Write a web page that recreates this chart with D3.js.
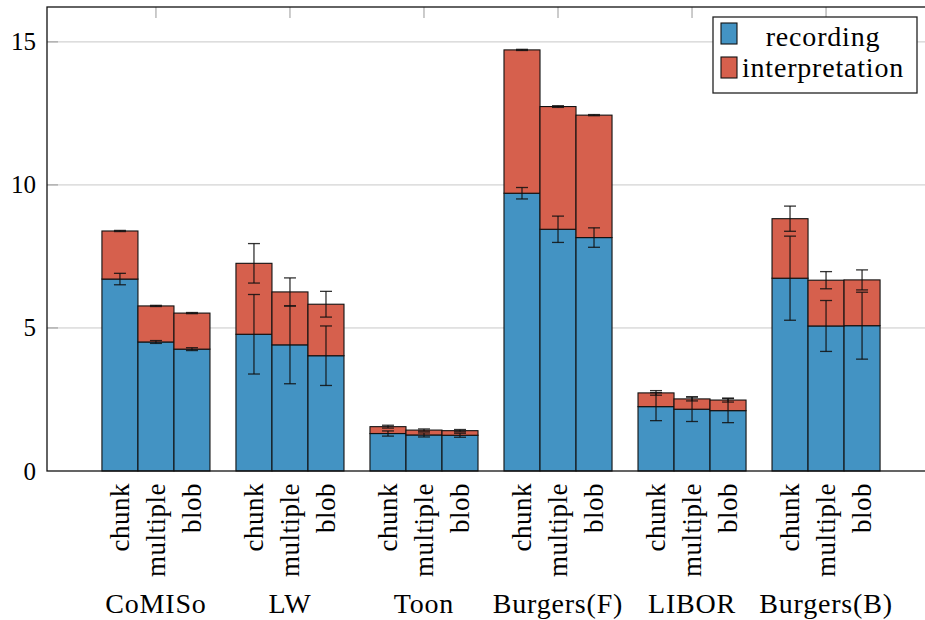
<!DOCTYPE html>
<html>
<head>
<meta charset="utf-8">
<script src="https://cdn.jsdelivr.net/npm/d3@7"></script>
</head>
<body style="margin:0; background:#fff">
<svg></svg>
<script>
let width = 925;
let height = 620;
let serifFont = '"Liberation Serif", "Times New Roman", serif';

// data
let groups = ['CoMISo', 'LW', 'Toon', 'Burgers(F)', 'LIBOR', 'Burgers(B)'];
let variants = ['chunk', 'multiple', 'blob'];
let recording = [
  [6.71, 4.51, 4.26],
  [4.78, 4.41, 4.03],
  [1.31, 1.26, 1.25],
  [9.71, 8.45, 8.16],
  [2.25, 2.16, 2.11],
  [6.74, 5.07, 5.08]
];
let recordingErr = [
  [0.20, 0.05, 0.05],
  [1.39, 1.36, 1.04],
  [0.09, 0.07, 0.07],
  [0.20, 0.46, 0.34],
  [0.49, 0.43, 0.42],
  [1.47, 0.89, 1.17]
];
let interpretation = [
  [1.68, 1.26, 1.26],
  [2.48, 1.85, 1.80],
  [0.24, 0.17, 0.16],
  [5.01, 4.29, 4.28],
  [0.48, 0.36, 0.37],
  [2.08, 1.60, 1.60]
];
let interpretationErr = [
  [0.02, 0.02, 0.02],
  [0.69, 0.49, 0.45],
  [0.05, 0.04, 0.04],
  [0.02, 0.03, 0.02],
  [0.08, 0.07, 0.07],
  [0.44, 0.30, 0.35]
];
let yTicks = [0, 5, 10, 15];
let seriesNames = ['recording', 'interpretation'];
let colors = ['#4393c3', '#d6604d'];

let margin = {left: 47, top: 7, bottom: 471};
let barWidth = 0.2687; // in group units

let x = d3.scaleLinear()
  .domain([-0.813, 5.813])
  .range([margin.left, 935]);

let y = d3.scaleLinear()
  .domain([0, 16.22])
  .range([margin.bottom, margin.top]);

let svg = d3.select('svg')
  .attr('width', width)
  .attr('height', height);

// flatten into one record per bar
let bars = [];
groups.forEach((g, i) => {
  variants.forEach((v, j) => {
    bars.push({
      group: i,
      variant: v,
      pos: i + (j - 1) * barWidth,
      rec: recording[i][j],
      recErr: recordingErr[i][j],
      interp: interpretation[i][j],
      interpErr: interpretationErr[i][j]
    });
  });
});

let bw = x(barWidth) - x(0);

// grid lines
svg.append('g')
  .selectAll('line')
  .data(yTicks.filter(t => t > 0))
  .enter()
  .append('line')
    .attr('x1', margin.left)
    .attr('x2', width)
    .attr('y1', d => y(d))
    .attr('y2', d => y(d))
    .attr('stroke', '#c8c8c8')
    .attr('stroke-width', 1);

// y tick marks
svg.append('g')
  .selectAll('line')
  .data(yTicks.filter(t => t > 0))
  .enter()
  .append('line')
    .attr('x1', margin.left)
    .attr('x2', margin.left + 11)
    .attr('y1', d => y(d))
    .attr('y2', d => y(d))
    .attr('stroke', '#999')
    .attr('stroke-width', 1);

// x tick marks on top
svg.append('g')
  .selectAll('line')
  .data(groups.map((g, i) => i))
  .enter()
  .append('line')
    .attr('x1', d => x(d))
    .attr('x2', d => x(d))
    .attr('y1', margin.top)
    .attr('y2', margin.top + 11)
    .attr('stroke', '#999')
    .attr('stroke-width', 1);

// stacked bars
svg.append('g')
  .selectAll('rect')
  .data(bars)
  .enter()
  .append('rect')
    .attr('x', d => x(d.pos) - bw / 2)
    .attr('width', bw)
    .attr('y', d => y(d.rec))
    .attr('height', d => y(0) - y(d.rec))
    .attr('fill', colors[0])
    .attr('stroke', '#111')
    .attr('stroke-width', 1.1);

svg.append('g')
  .selectAll('rect')
  .data(bars)
  .enter()
  .append('rect')
    .attr('x', d => x(d.pos) - bw / 2)
    .attr('width', bw)
    .attr('y', d => y(d.rec + d.interp))
    .attr('height', d => y(d.rec) - y(d.rec + d.interp))
    .attr('fill', colors[1])
    .attr('stroke', '#111')
    .attr('stroke-width', 1.1);

// error bars
function drawErrors(data, top, err) {
  let g = svg.append('g')
    .attr('stroke', '#111')
    .attr('stroke-opacity', 0.85)
    .attr('stroke-width', 1.3);
  let cap = 6;
  data.forEach(d => {
    let cx = x(d.pos);
    let y1 = y(top(d) + err(d));
    let y2 = y(top(d) - err(d));
    g.append('line').attr('x1', cx).attr('x2', cx).attr('y1', y1).attr('y2', y2);
    g.append('line').attr('x1', cx - cap).attr('x2', cx + cap).attr('y1', y1).attr('y2', y1);
    g.append('line').attr('x1', cx - cap).attr('x2', cx + cap).attr('y1', y2).attr('y2', y2);
  });
}
drawErrors(bars, d => d.rec, d => d.recErr);
drawErrors(bars, d => d.rec + d.interp, d => d.interpErr);

// frame
svg.append('rect')
  .attr('x', margin.left)
  .attr('y', margin.top)
  .attr('width', 935 - margin.left)
  .attr('height', margin.bottom - margin.top)
  .attr('fill', 'none')
  .attr('stroke', '#111')
  .attr('stroke-width', 1.3);

// y tick labels
svg.selectAll('.ytick')
  .data(yTicks)
  .enter()
  .append('text')
    .classed('ytick', true)
    .attr('x', 36)
    .attr('y', d => y(d))
    .attr('dy', '0.34em')
    .attr('text-anchor', 'end')
    .style('font-family', serifFont)
    .style('font-size', '25px')
    .text(d => d);

// variant labels, rotated
svg.selectAll('.variant')
  .data(bars)
  .enter()
  .append('text')
    .classed('variant', true)
    .attr('transform', d => `translate(${x(d.pos) + 9}, 483) rotate(-90)`)
    .attr('text-anchor', 'end')
    .style('font-family', serifFont)
    .style('font-size', '27px')
    .style('letter-spacing', '0.5px')
    .text(d => d.variant);

// group labels
svg.selectAll('.group')
  .data(groups)
  .enter()
  .append('text')
    .classed('group', true)
    .attr('x', (d, i) => x(i))
    .attr('y', 613)
    .attr('text-anchor', 'middle')
    .style('font-family', serifFont)
    .style('font-size', '28px')
    .style('letter-spacing', '0.8px')
    .text(d => d);

// legend
svg.append('rect')
  .attr('x', 713)
  .attr('y', 17)
  .attr('width', 204)
  .attr('height', 76)
  .attr('fill', '#fff')
  .attr('stroke', '#222')
  .attr('stroke-width', 1.3);

seriesNames.forEach((name, i) => {
  svg.append('rect')
    .attr('x', 721)
    .attr('y', 23 + i * 34)
    .attr('width', 16)
    .attr('height', 21)
    .attr('fill', colors[i])
    .attr('stroke', '#111')
    .attr('stroke-width', 1.1);
  svg.append('text')
    .attr('x', 823)
    .attr('y', 46 + i * 31)
    .attr('text-anchor', 'middle')
    .style('font-family', serifFont)
    .style('font-size', '28px')
    .style('letter-spacing', '0.8px')
    .text(name);
});
</script>
</body>
</html>
